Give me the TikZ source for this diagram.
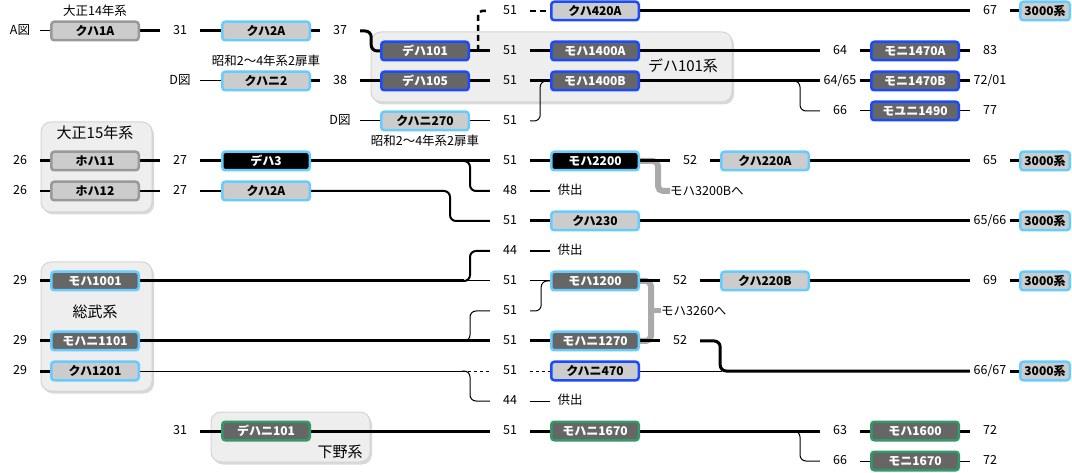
\documentclass[tikz,border=0pt]{standalone}
\usepackage{fontspec}
\setmainfont{Noto Sans CJK JP}
\usetikzlibrary{shadows}
\definecolor{boxgray}{HTML}{CCCCCC}
\definecolor{boxdark}{HTML}{666666}
\definecolor{edgeg}{HTML}{999999}
\definecolor{edgel}{HTML}{66CCFF}
\definecolor{edgeb}{HTML}{1A4BFF}
\definecolor{edgen}{HTML}{339966}
\definecolor{grpfill}{HTML}{EEEEEE}
\definecolor{grpedge}{HTML}{D4D4D4}
\definecolor{conngray}{HTML}{AAAAAA}
\pgfdeclarelayer{grp}\pgfdeclarelayer{lines}\pgfsetlayers{grp,lines,main}
\begin{document}
\begin{tikzpicture}[x=1pt,y=-1pt,
 car/.style={rectangle, rounded corners=3pt, line width=2.5pt, minimum width=87.5pt, minimum height=18.5pt, inner sep=0pt, font=\bfseries\fontsize{12}{13}\selectfont},
 fillgray/.style={fill=boxgray, text=black},
 filldark/.style={fill=boxdark, text=white},
 fillblack/.style={fill=black, text=white},
 edgegray/.style={draw=edgeg},
 edgelight/.style={draw=edgel},
 edgeblue/.style={draw=edgeb},
 edgegreen/.style={draw=edgen},
 car3000/.style={car, minimum width=49.5pt, fillgray, edgelight},
 num/.style={minimum width=40pt, inner sep=0pt, text height=9pt, text depth=1.5pt, font=\fontsize{12.5}{13}\selectfont},
 lbl/.style={inner sep=0pt, font=\fontsize{12.5}{13}\selectfont},
 glbl/.style={inner sep=0pt, font=\fontsize{15}{16}\selectfont},
 grpbox/.style={rounded corners=10pt, fill=grpfill, draw=grpedge, line width=1pt, drop shadow={shadow xshift=2pt, shadow yshift=-2.5pt, opacity=0.3}},
 wthick/.style={line width=3pt, rounded corners=6pt},
 wmed/.style={line width=2pt, rounded corners=6pt},
 wthin/.style={line width=1pt, rounded corners=6pt},
 dashthick/.style={line width=2.5pt, dash pattern=on 6pt off 4pt},
 dashthin/.style={line width=1pt, dash pattern=on 3pt off 3pt},
 grayconn/.style={line width=6pt, draw=conngray, rounded corners=5pt},
]
\useasboundingbox (0,0) rectangle (1072,473);

% ---------- groups ----------
\begin{pgfonlayer}{grp}
\draw[grpbox] (41,122) rectangle (152,212);
\draw[grpbox] (41,262) rectangle (152,391);
\draw[grpbox] (371,32) rectangle (732,102);
\draw[grpbox] (211,412) rectangle (370,462);
\end{pgfonlayer}
\node[glbl] (g15) at (95,133) {大正15年系};
\node[glbl] (gsobu) at (95,312) {総武系};
\node[glbl] (g101) at (683,66) {デハ101系};
\node[glbl] (gshimo) at (340,452) {下野系};

% ---------- labels ----------
\node[lbl] (tA) at (95,11) {大正14年系};
\node[lbl] (tS1) at (266,61) {昭和2～4年系2扉車};
\node[lbl] (tS2) at (425,141) {昭和2～4年系2扉車};

% ---------- row A ----------
\node[num] (nA) at (20,31) {A図};
\node[car,fillgray,edgegray] (kuha1A) at (95,31) {クハ1A};
\node[num] (n31a) at (180,31) {31};
\node[car,fillgray,edgelight] (kuha2Aa) at (266,31) {クハ2A};
\node[num] (n37) at (340,31) {37};

% ---------- row 0 ----------
\node[num] (n51z) at (510,11) {51};
\node[car,fillgray,edgeblue] (kuha420A) at (595,11) {クハ420A};
\node[num] (n67) at (990,11) {67};
\node[car3000] (k3000a) at (1045,11) {3000系};

% ---------- row 1 ----------
\node[car,filldark,edgeblue] (deha101) at (425,51) {デハ101};
\node[num] (n51a) at (510,51) {51};
\node[car,filldark,edgeblue] (moha1400A) at (595,51) {モハ1400A};
\node[num] (n64) at (840,51) {64};
\node[car,filldark,edgeblue] (moni1470A) at (915,51) {モニ1470A};
\node[num] (n83) at (990,51) {83};

% ---------- row 2 ----------
\node[num] (nD1) at (180,81) {D図};
\node[car,fillgray,edgelight] (kuhani2) at (266,81) {クハニ2};
\node[num] (n38) at (340,81) {38};
\node[car,filldark,edgeblue] (deha105) at (425,81) {デハ105};
\node[num] (n51b) at (510,81) {51};
\node[car,filldark,edgeblue] (moha1400B) at (595,81) {モハ1400B};
\node[num] (n6465) at (840,81) {64/65};
\node[car,filldark,edgeblue] (moni1470B) at (915,81) {モニ1470B};
\node[num] (n7201) at (990,81) {72/01};

% ---------- row 3 ----------
\node[num] (n66a) at (840,111) {66};
\node[car,filldark,edgeblue] (moyuni1490) at (915,111) {モユニ1490};
\node[num] (n77) at (990,111) {77};
\node[num] (nD2) at (340,121) {D図};
\node[car,fillgray,edgelight] (kuhani270) at (425,121) {クハニ270};
\node[num] (n51c) at (510,121) {51};

% ---------- row 4 ----------
\node[num] (n26a) at (20,161) {26};
\node[car,fillgray,edgegray] (hoha11) at (95,161) {ホハ11};
\node[num] (n27a) at (180,161) {27};
\node[car,fillblack,edgelight] (deha3) at (266,161) {デハ3};
\node[num] (n51d) at (510,161) {51};
\node[car,fillblack,edgelight] (moha2200) at (595,161) {モハ2200};
\node[num] (n52a) at (690,161) {52};
\node[car,fillgray,edgelight] (kuha220A) at (765,161) {クハ220A};
\node[num] (n65) at (990,161) {65};
\node[car3000] (k3000b) at (1045,161) {3000系};

% ---------- row 5 ----------
\node[num] (n26b) at (20,191) {26};
\node[car,fillgray,edgegray] (hoha12) at (95,191) {ホハ12};
\node[num] (n27b) at (180,191) {27};
\node[car,fillgray,edgelight] (kuha2Ab) at (266,191) {クハ2A};
\node[num] (n48) at (510,191) {48};
\node[num] (kyo1) at (570,191) {供出};
\node[lbl,anchor=west] (t3200) at (670,191) {モハ3200Bへ};

% ---------- row 6 ----------
\node[num] (n51e) at (510,221) {51};
\node[car,fillgray,edgelight] (kuha230) at (595,221) {クハ230};
\node[num] (n6566) at (990,221) {65/66};
\node[car3000] (k3000c) at (1045,221) {3000系};

% ---------- row 7 ----------
\node[num] (n44a) at (510,251) {44};
\node[num] (kyo2) at (570,251) {供出};

% ---------- row 8 ----------
\node[num] (n29a) at (20,281) {29};
\node[car,filldark,edgelight] (moha1001) at (95,281) {モハ1001};
\node[num] (n51f) at (510,281) {51};
\node[car,filldark,edgelight] (moha1200) at (595,281) {モハ1200};
\node[num] (n52b) at (680,281) {52};
\node[car,fillgray,edgelight] (kuha220B) at (765,281) {クハ220B};
\node[num] (n69) at (990,281) {69};
\node[car3000] (k3000d) at (1045,281) {3000系};

% ---------- row 9 ----------
\node[num] (n51g) at (510,311) {51};
\node[lbl,anchor=west] (t3260) at (661,311) {モハ3260へ};

% ---------- row 10 ----------
\node[num] (n29b) at (20,341) {29};
\node[car,filldark,edgelight] (mohani1101) at (95,341) {モハニ1101};
\node[num] (n51h) at (510,341) {51};
\node[car,filldark,edgelight] (mohani1270) at (595,341) {モハニ1270};
\node[num] (n52c) at (680,341) {52};

% ---------- row 11 ----------
\node[num] (n29c) at (20,371) {29};
\node[car,fillgray,edgelight] (kuha1201) at (95,371) {クハ1201};
\node[num] (n51i) at (510,371) {51};
\node[car,fillgray,edgeblue] (kuhani470) at (595,371) {クハニ470};
\node[num] (n6667) at (990,371) {66/67};
\node[car3000] (k3000e) at (1045,371) {3000系};

% ---------- row 12 ----------
\node[num] (n44b) at (510,401) {44};
\node[num] (kyo3) at (570,401) {供出};

% ---------- row 13 ----------
\node[num] (n31b) at (180,431) {31};
\node[car,filldark,edgegreen] (dehani101) at (266,431) {デハニ101};
\node[num] (n51j) at (510,431) {51};
\node[car,filldark,edgegreen] (mohani1670) at (595,431) {モハニ1670};
\node[num] (n63) at (840,431) {63};
\node[car,filldark,edgegreen] (moha1600) at (915,431) {モハ1600};
\node[num] (n72a) at (990,431) {72};

% ---------- row 14 ----------
\node[num] (n66b) at (840,461) {66};
\node[car,filldark,edgegreen] (moni1670) at (915,461) {モニ1670};
\node[num] (n72b) at (990,461) {72};

% ---------- connectors ----------
\begin{pgfonlayer}{lines}
% gray
\draw[grayconn] (moha2200.east) -- ++(18,0) |- (t3200.west);
\draw[grayconn] (moha1200.east) -- ++(11,0) |- (mohani1270.east);
\draw[grayconn, line width=5pt] (t3260.west) -- ++(-11,0);

% row A
\draw[wthin] (nA) -- (kuha1A);
\draw[wthick] (kuha1A) -- (n31a);
\draw[wthick] (n31a) -- (kuha2Aa);
\draw[wthick] (kuha2Aa) -- (n37);
\draw[wthick] (n37.east) -- ++(11,0) |- (deha101.west);
% row 0
\draw[dashthick] (n51z) -- (kuha420A);
\draw[wthick] (kuha420A) -- (n67);
\draw[wthick] (n67) -- (k3000a);
\draw[dashthick, rounded corners=4pt] (deha101.east) ++(8,0) |- (n51z.west);
% row 1
\draw[wthick] (deha101) -- (n51a);
\draw[wthick] (n51a) -- (moha1400A);
\draw[wthick] (moha1400A) -- (n64);
\draw[wthick] (n64) -- (moni1470A);
\draw[wthick] (moni1470A) -- (n83);
% row 2
\draw[wthin] (nD1) -- (kuhani2);
\draw[wthick] (kuhani2) -- (n38);
\draw[wthick] (n38) -- (deha105);
\draw[wthick] (deha105) -- (n51b);
\draw[wthick] (n51b) -- (moha1400B);
\draw[wthick] (moha1400B) -- (n6465);
\draw[wthick] (n6465) -- (moni1470B);
\draw[wthick] (moni1470B) -- (n7201);
\draw[wthin] (moha1400B.east) ++(150,0) -- ++(10,0) |- (n66a.west);
% row 3
\draw[wthin] (n66a) -- (moyuni1490);
\draw[wthin] (moyuni1490) -- (n77);
\draw[wthin] (nD2) -- (kuhani270);
\draw[wthin] (kuhani270) -- (n51c);
\draw[wthin] (n51c.east) -- ++(10,0) |- (moha1400B.west);
% row 4
\draw[wthick] (n26a) -- (hoha11);
\draw[wthick] (hoha11) -- (n27a);
\draw[wthick] (n27a) -- (deha3);
\draw[wthick] (deha3) -- (n51d);
\draw[wthick] (n51d) -- (moha2200);
\draw[wthick] (moha2200) -- (n52a);
\draw[wthick] (n52a) -- (kuha220A);
\draw[wthick] (kuha220A) -- (n65);
\draw[wthick] (n65) -- (k3000b);
\draw[wmed] (deha3.east) ++(151,0) -- ++(8,0) |- (n48.west);
% row 5
\draw[wmed] (n26b) -- (hoha12);
\draw[wmed] (hoha12) -- (n27b);
\draw[wmed] (n27b) -- (kuha2Ab);
\draw[wmed] (kuha2Ab.east) -- ++(139,0) |- (n51e.west);
\draw[wmed] (n48) -- (kyo1);
% row 6
\draw[wthick] (n51e) -- (kuha230);
\draw[wthick] (kuha230) -- (n6566);
\draw[wthick] (n6566) -- (k3000c);
% row 7
\draw[wmed] (n44a) -- (kyo2);
% row 8
\draw[wthick] (n29a) -- (moha1001);
\draw[wthick] (moha1001.east) -- ++(324,0) coordinate (b8);
\draw[wmed] (b8) -- ++(6,0) |- (n44a.west);
\draw[wthin] (moha1001) -- (n51f);
\draw[wthin] (n51f) -- (moha1200);
\draw[wthick] (moha1200) -- (n52b);
\draw[wthick] (n52b) -- (kuha220B);
\draw[wthick] (kuha220B) -- (n69);
\draw[wthick] (n69) -- (k3000d);
% row 9
\draw[wthin] (mohani1101.east) ++(322,0) -- ++(8,0) |- (n51g.west);
\draw[wthin] (n51g.east) -- ++(11,0) |- (moha1200.west);
% row 10
\draw[wthick] (n29b) -- (mohani1101);
\draw[wthick] (mohani1101) -- (n51h);
\draw[wthick] (n51h) -- (mohani1270);
\draw[wthick] (mohani1270) -- (n52c);
\draw[wthick] (n52c.east) -- ++(20,0) |- (n6667.west);
% row 11
\draw[wthick] (n29c) -- (kuha1201);
\draw[wthin] (kuha1201.east) -- ++(322,0) coordinate (d11);
\draw[dashthin] (d11) -- (n51i.west);
\draw[wthin] (d11) -- ++(8,0) |- (n44b.west);
\draw[dashthin] (n51i) -- (kuhani470);
\draw[wthin] (kuhani470.east) -- ++(82,0);
\draw[wthick] (n6667) -- (k3000e);
% row 12
\draw[wthin] (n44b) -- (kyo3);
% row 13
\draw[wthick] (n31b) -- (dehani101);
\draw[wthick] (dehani101) -- (n51j);
\draw[wthick] (n51j) -- (mohani1670);
\draw[wthick] (mohani1670) -- (n63);
\draw[wthick] (n63) -- (moha1600);
\draw[wthick] (moha1600) -- (n72a);
\draw[wthin] (mohani1670.east) ++(150,0) -- ++(10,0) |- (n66b.west);
% row 14
\draw[wthin] (n66b) -- (moni1670);
\draw[wthin] (moni1670) -- (n72b);
\end{pgfonlayer}
\end{tikzpicture}
\end{document}
